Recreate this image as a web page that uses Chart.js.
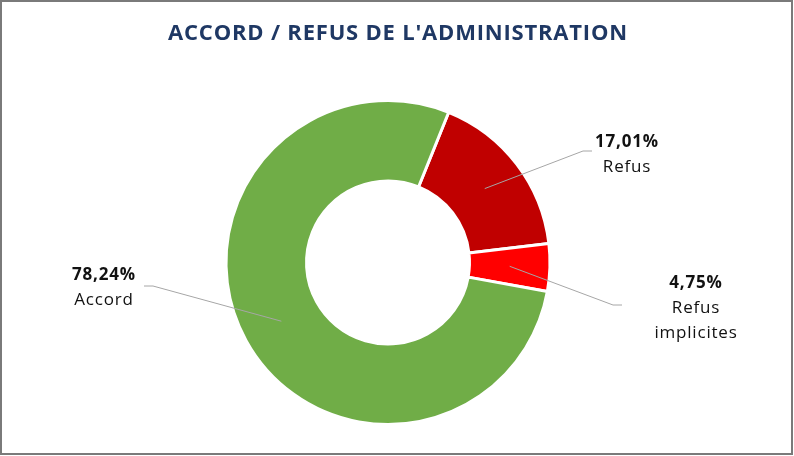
<!DOCTYPE html>
<html>
<head>
<meta charset="utf-8">
<script src="https://cdn.jsdelivr.net/npm/chart.js@4"></script>
<style>
  html, body { margin: 0; padding: 0; background: #fff; }
  #frame { position: absolute; left: 0; top: 0; width: 793px; height: 455px; box-sizing: border-box; border: 2px solid #7a7a7a; }
  #wrap { position: absolute; left: 0; top: 0; width: 794px; height: 456px; }
</style>
</head>
<body>
<div id="frame"></div>
<div id="wrap"><canvas id="c" width="794" height="456"></canvas></div>
<script>
const TITLE = "ACCORD / REFUS DE L'ADMINISTRATION";
const categories = ["Refus", "Refus implicites", "Accord"];
const values = [17.01, 4.75, 78.24];
const labelNames = [["Refus"], ["Refus", "implicites"], ["Accord"]];
const colors = ["#C00000", "#FF0000", "#70AD47"];

// label layout: elbow point, end of horizontal segment, text centre, first line y
const labelLayout = [
  { elbow: [583, 151], end: [592, 151], tx: 627, ty: 142 },
  { elbow: [613, 305], end: [622, 305], tx: 696, ty: 283 },
  { elbow: [153, 286], end: [144, 286], tx: 104, ty: 275 }
];

const fmt = v => v.toFixed(2).replace('.', ',') + '%';

const labelsPlugin = {
  id: 'outLabels',
  afterDraw(chart) {
    const ctx = chart.ctx;
    ctx.save();
    // title
    ctx.fillStyle = '#1F3864';
    ctx.font = 'bold 22px "Open Sans"';
    ctx.textAlign = 'center';
    ctx.textBaseline = 'middle';
    ctx.letterSpacing = '0.8px';
    ctx.fillText(TITLE, 398, 34);

    const meta = chart.getDatasetMeta(0);
    meta.data.forEach((arc, i) => {
      const p = arc.getCenterPoint();
      const L = labelLayout[i];
      ctx.strokeStyle = '#A6A6A6';
      ctx.lineWidth = 1;
      ctx.beginPath();
      ctx.moveTo(p.x, p.y);
      ctx.lineTo(L.elbow[0], L.elbow[1]);
      ctx.lineTo(L.end[0], L.end[1]);
      ctx.stroke();

      ctx.fillStyle = '#111';
      ctx.textAlign = 'center';
      ctx.textBaseline = 'middle';
      ctx.letterSpacing = '0.8px';
      ctx.font = 'bold 17px "Open Sans"';
      ctx.fillText(fmt(values[i]), L.tx, L.ty);
      ctx.font = '17px "Open Sans"';
      labelNames[i].forEach((t, k) => {
        ctx.fillText(t, L.tx, L.ty + 25 * (k + 1));
      });
    });
    ctx.restore();
  }
};

new Chart(document.getElementById('c'), {
  type: 'doughnut',
  data: {
    labels: categories,
    datasets: [{
      data: values,
      backgroundColor: colors,
      borderColor: '#ffffff',
      borderWidth: 3,
      hoverOffset: 0
    }]
  },
  options: {
    responsive: false,
    animation: false,
    rotation: 22,
    radius: 162,
    cutout: '50.3%',
    layout: { padding: { left: 0, right: 18, top: 69, bottom: 0 } },
    plugins: {
      legend: { display: false },
      tooltip: { enabled: false },
      title: { display: false }
    }
  },
  plugins: [labelsPlugin]
});
</script>
</body>
</html>
